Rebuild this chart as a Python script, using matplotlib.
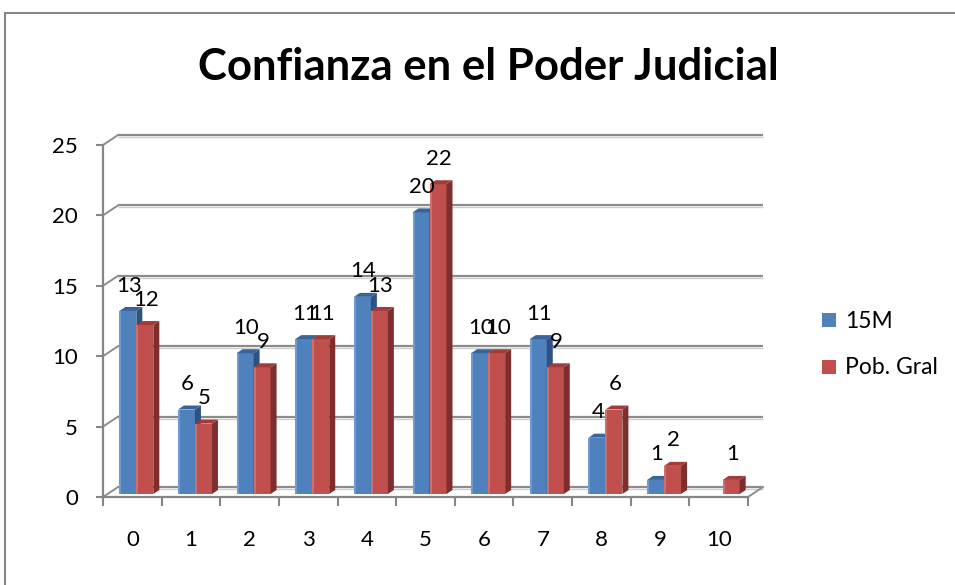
import numpy as np
import matplotlib
matplotlib.use("Agg")
import matplotlib.pyplot as plt
from matplotlib.patches import Polygon, Rectangle

# ---------------- data ----------------
categories = ["0", "1", "2", "3", "4", "5", "6", "7", "8", "9", "10"]
series_names = ["15M", "Pob. Gral"]
values_15m = [13, 6, 10, 11, 14, 20, 10, 11, 4, 1, None]
values_pob = [12, 5, 9, 11, 13, 22, 10, 9, 6, 2, 1]
y_ticks = [0, 5, 10, 15, 20, 25]
title = "Confianza en el Poder Judicial"

# ---------------- style ----------------
front_colors = ["#4F81BD", "#C0504D"]
top_colors = ["#3A6399", "#A13C3A"]
side_colors = ["#2E5383", "#7E2F2D"]
hi_colors = ["#6F9BD3", "#D06E6B"]
axis_gray = "#868686"
grid_gray = "#8C8C8C"
shadow_gray = "#CFCFCF"

plt.rcParams['font.family'] = ['Lato', 'DejaVu Sans']

W, H = 955, 585
fig = plt.figure(figsize=(W / 100, H / 100), dpi=100)

# chart-area border (left and top edges visible)
fig.patches.append(Rectangle((5 / W, -0.05), 1.2, (H - 13) / H + 0.05,
                             transform=fig.transFigure, fill=False,
                             ec=axis_gray, lw=1.5))

# front plane of the plot
L, R, B, T = 103, 748, 497, 145
ax = fig.add_axes([L / W, (H - B) / H, (R - L) / W, (B - T) / H])
ax.set_xlim(-0.5, len(categories) - 0.5)
ax.set_ylim(0, 25)

PXX = (R - L) / len(categories)   # px per x unit
PXY = (B - T) / 25.0              # px per y unit

def off(dx, dy):
    return dx / PXX, dy / PXY

bw_x, bw_y = off(15, 10)   # back wall offset
bp_x, bp_y = off(4, 3)     # bar plane offset
bd_x, bd_y = off(6, 4)     # bar depth
sh_y = 2 / PXY
bar_w = 17 / PXX
hi_w = 2 / PXX

x0, x1 = -0.5, len(categories) - 0.5

# back wall gridlines + connectors
for v in y_ticks:
    ax.plot([x0 + bw_x, x1 + bw_x], [v + bw_y - sh_y] * 2, color=shadow_gray,
            lw=1.0, clip_on=False, zorder=1, solid_capstyle='butt')
    ax.plot([x0 + bw_x, x1 + bw_x], [v + bw_y] * 2, color=grid_gray,
            lw=1.6, clip_on=False, zorder=1.5, solid_capstyle='butt')
    ax.plot([x0, x0 + bw_x], [v, v + bw_y], color=grid_gray, lw=1.4,
            clip_on=False, zorder=1.5)
# right floor edge
ax.plot([x1, x1 + bw_x], [0, bw_y], color=grid_gray, lw=1.4,
        clip_on=False, zorder=1.5)

# bars
xs = np.arange(len(categories))
for si, vals in enumerate([values_15m, values_pob]):
    for xi, v in zip(xs, vals):
        if v is None:
            continue
        xl = xi + bp_x - bar_w + si * bar_w
        top = v + bp_y
        z = 3 + si
        ax.add_patch(Rectangle((xl, bp_y), bar_w, v, fc=front_colors[si],
                               ec='none', zorder=z, clip_on=False))
        ax.add_patch(Rectangle((xl, bp_y), hi_w, v, fc=hi_colors[si],
                               ec='none', zorder=z, clip_on=False))
        ax.add_patch(Polygon([(xl, top), (xl + bar_w, top),
                              (xl + bar_w + bd_x, top + bd_y),
                              (xl + bd_x, top + bd_y)],
                             closed=True, fc=top_colors[si], ec='none',
                             zorder=z, clip_on=False))
        ax.add_patch(Polygon([(xl + bar_w, bp_y), (xl + bar_w + bd_x, bp_y + bd_y),
                              (xl + bar_w + bd_x, top + bd_y), (xl + bar_w, top)],
                             closed=True, fc=side_colors[si], ec='none',
                             zorder=z, clip_on=False))
        ax.annotate(str(v), xy=(xl + bar_w / 2 + 1 / PXX, top), xytext=(0, 14),
                    textcoords='offset points', ha='center', va='baseline',
                    fontsize=16, color='black', zorder=10, annotation_clip=False)

# axes styling
for s in ['top', 'right']:
    ax.spines[s].set_visible(False)
for s in ['left', 'bottom']:
    ax.spines[s].set_color(axis_gray)
    ax.spines[s].set_linewidth(1.6)
    ax.spines[s].set_zorder(6)
ax.set_facecolor('none')

ax.set_yticks(y_ticks)
ax.set_yticklabels([str(t) for t in y_ticks])
ax.tick_params(axis='y', length=5, width=1.5, color=axis_gray, pad=13,
               labelsize=16)

ax.set_xticks(np.arange(-0.5, len(categories), 1.0))
ax.set_xticklabels([])
ax.tick_params(axis='x', which='major', length=6.5, width=1.5, color=axis_gray)
ax.set_xticks(xs, minor=True)
ax.set_xticklabels(categories, minor=True)
ax.tick_params(axis='x', which='minor', length=0, pad=24, labelsize=16)

# title
fig.text(488.5 / W, 1 - 80 / H, title, ha='center', va='baseline',
         fontsize=31.5, fontweight='bold')

# legend
leg_y = [320, 367]
for i, name in enumerate(series_names):
    fig.patches.append(Rectangle((822 / W, 1 - (leg_y[i] + 7) / H), 14 / W, 14 / H,
                                 transform=fig.transFigure, fc=front_colors[i],
                                 ec='none'))
    fig.text(845 / W, 1 - (leg_y[i] + 1) / H, name, ha='left', va='center',
             fontsize=16.5)

fig.savefig("out.png", dpi=100)
